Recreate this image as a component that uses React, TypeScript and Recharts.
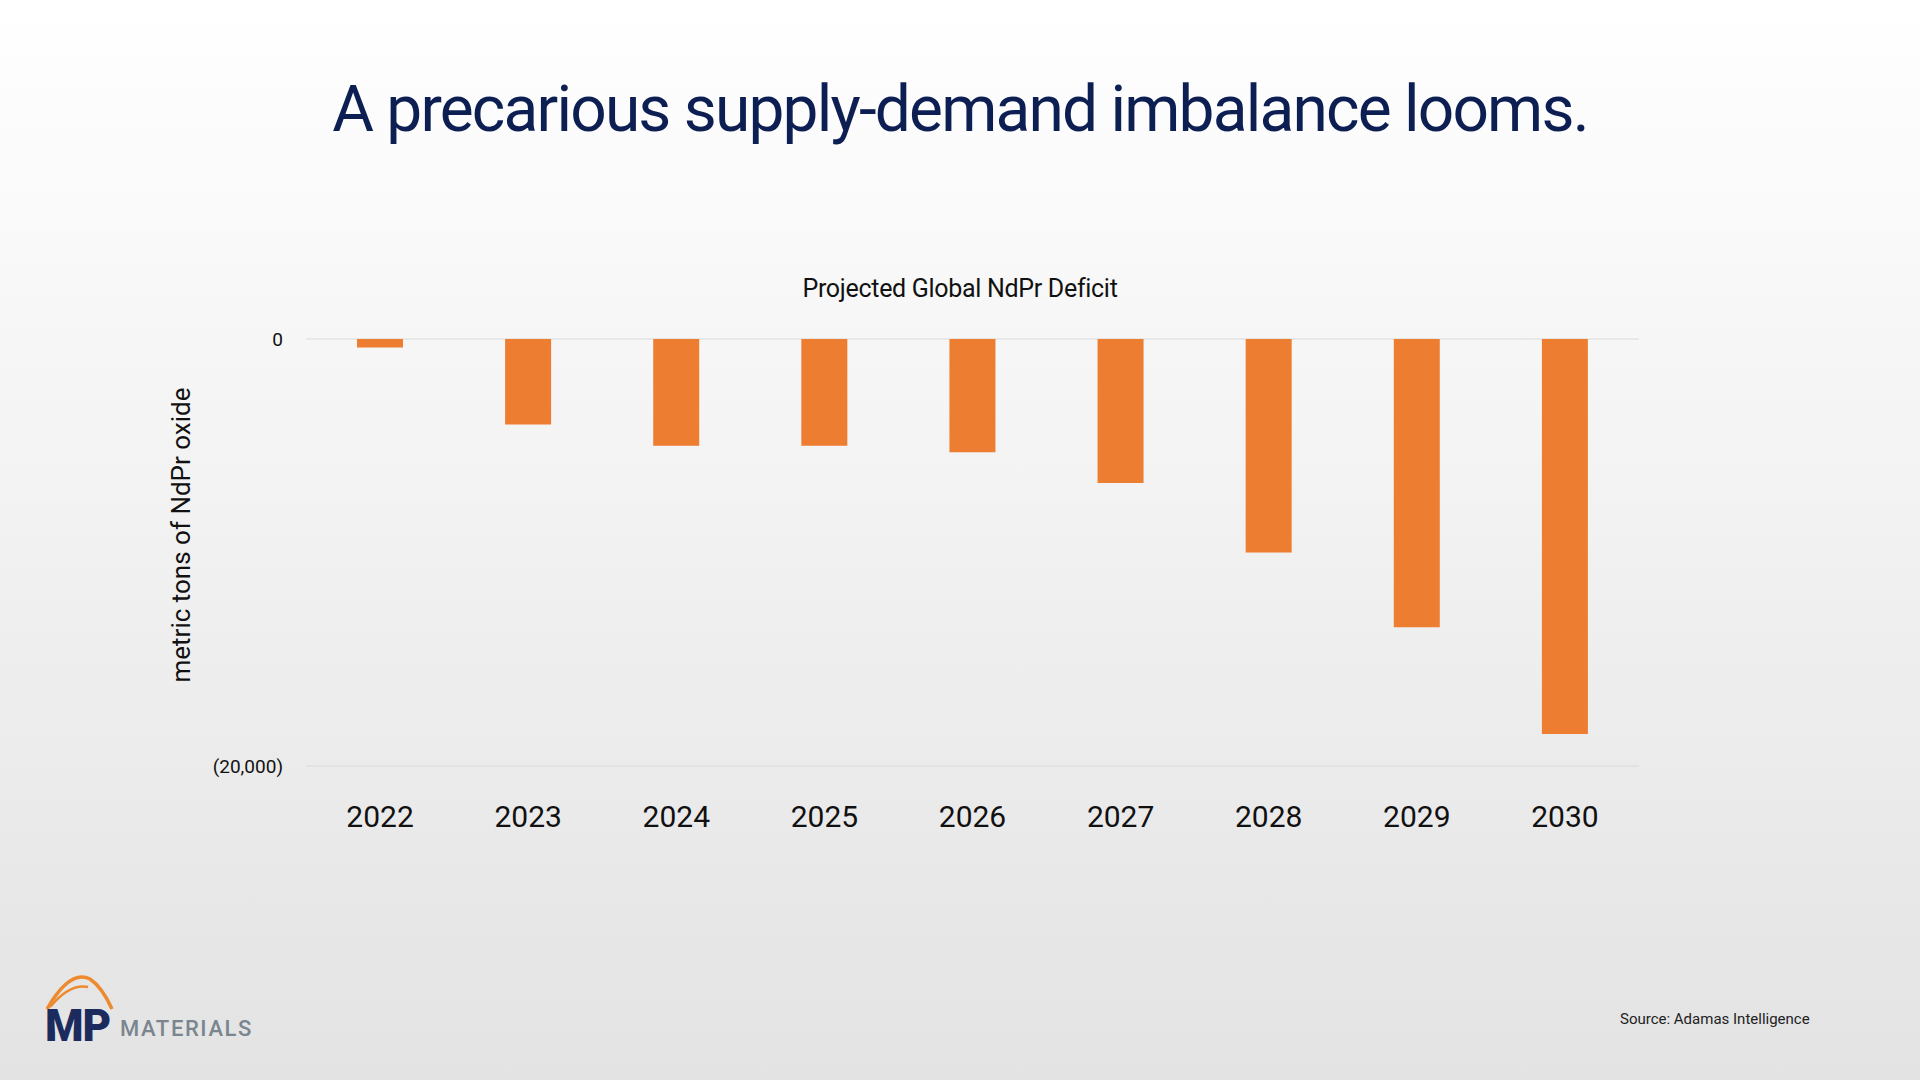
import React from "react"
import { Bar, BarChart, CartesianGrid, XAxis, YAxis } from "recharts"

const years = ["2022", "2023", "2024", "2025", "2026", "2027", "2028", "2029", "2030"]
const deficit = [-400, -4000, -5000, -5000, -5300, -6750, -10000, -13500, -18500]
const yTicks = [-20000, 0]

const data = years.map((year, i) => ({ year, deficit: deficit[i] }))

const fmt = (v: number) => (v < 0 ? `(${Math.abs(v).toLocaleString("en-US")})` : `${v}`)

const font = "Roboto, 'Noto Sans', sans-serif"

const Logo = () => (
  <svg width={260} height={90} style={{ position: "absolute", left: 30, top: 965 }}>
    <path d="M17 44 Q40 4 60 14 Q72 22 82 44" fill="none" stroke="#ED8A2F" strokeWidth={3.5} />
    <path d="M20 42 Q40 18 58 22" fill="none" stroke="#ED8A2F" strokeWidth={2.5} />
    <text x={15} y={76} fontFamily={font} fontWeight={900} fontSize={44} fill="#1C2B5E" letterSpacing={-1}>
      MP
    </text>
    <text x={90} y={71} fontFamily={font} fontWeight={500} fontSize={22} fill="#7A8590" letterSpacing={1.6}>
      MATERIALS
    </text>
  </svg>
)

export default function App() {
  return (
    <div
      style={{
        position: "absolute",
        left: 0,
        top: 0,
        width: 1920,
        height: 1080,
        overflow: "hidden",
        background: "linear-gradient(180deg, #ffffff 0%, #f4f4f4 40%, #e3e3e3 100%)",
        fontFamily: font,
      }}
    >
      <div
        style={{
          position: "absolute",
          top: 72,
          width: 1920,
          textAlign: "center",
          fontSize: 64,
          color: "#0D1F52",
          letterSpacing: -1.8,
        }}
      >
        A precarious supply-demand imbalance looms.
      </div>
      <div
        style={{
          position: "absolute",
          top: 274,
          width: 1920,
          textAlign: "center",
          fontSize: 25,
          color: "#111",
          letterSpacing: -0.3,
        }}
      >
        Projected Global NdPr Deficit
      </div>
      <div
        style={{
          position: "absolute",
          left: 181,
          top: 535,
          transform: "translate(-50%, -50%) rotate(-90deg)",
          whiteSpace: "nowrap",
          fontSize: 26,
          color: "#111",
        }}
      >
        metric tons of NdPr oxide
      </div>
      <div style={{ position: "absolute", left: 0, top: 0 }}>
        <BarChart
          width={1920}
          height={1080}
          data={data}
          margin={{ top: 339, right: 281, left: 206, bottom: 234 }}
        >
          <CartesianGrid vertical={false} stroke="#d9d9d9" />
          <XAxis
            dataKey="year"
            axisLine={false}
            tickLine={false}
            tickSize={0}
            tickMargin={40}
            height={80}
            tick={{ fill: "#111", fontSize: 30, fontFamily: font }}
          />
          <YAxis
            width={100}
            domain={[-20000, 0]}
            ticks={yTicks}
            tickFormatter={fmt}
            axisLine={false}
            tickLine={false}
            tickSize={0}
            tickMargin={23}
            tick={{ fill: "#111", fontSize: 19, fontFamily: font }}
          />
          <Bar dataKey="deficit" fill="#ED7D31" barSize={46} isAnimationActive={false} />
        </BarChart>
      </div>
      <div
        style={{
          position: "absolute",
          left: 1620,
          top: 1010,
          fontSize: 15,
          color: "#222",
        }}
      >
        Source: Adamas Intelligence
      </div>
      <Logo />
    </div>
  )
}
